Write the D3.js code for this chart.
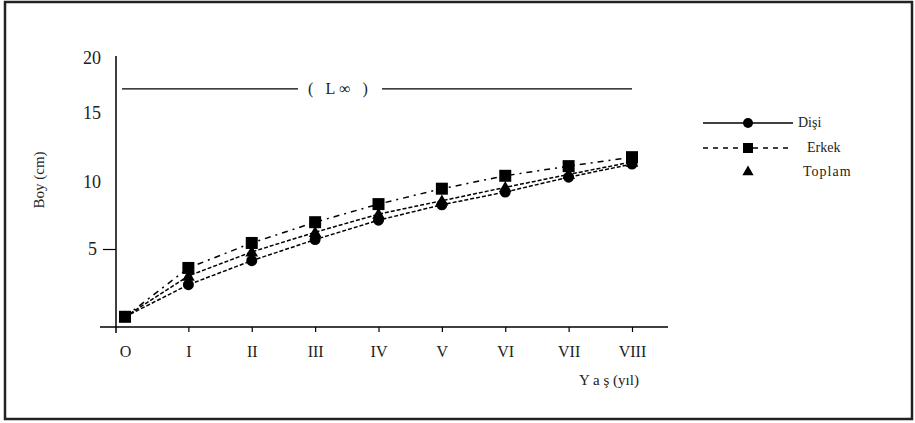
<!DOCTYPE html>
<html><head><meta charset="utf-8">
<script src="https://cdn.jsdelivr.net/npm/d3@7"></script>
<style>body{margin:0;background:#fff}svg{display:block}</style>
</head><body>
<script>
const ages = ["O","I","II","III","IV","V","VI","VII","VIII"];
const disi   = [0.35, 2.55, 4.2, 5.7, 7.15, 8.3, 9.25, 10.35, 11.3];
const erkek  = [0.35, 3.7, 5.45, 7.0, 8.35, 9.5, 10.45, 11.15, 11.8];
const toplam = [0.35, 3.15, 4.8, 6.25, 7.6, 8.6, 9.6, 10.55, 11.45];
const yTicks = [5, 10, 15, 20];
const lInf = 17.2;
const seriesNames = ["Dişi", "Erkek", "Toplam"];

const W = 915, H = 423;
const svg = d3.select("body").append("svg").attr("width", W).attr("height", H);
const font = "'Liberation Serif', serif";
const txt = "#222";

svg.append("rect").attr("x",5).attr("y",2).attr("width",907).attr("height",417)
  .attr("fill","none").attr("stroke","#222").attr("stroke-width",2.5);

const x = d3.scalePoint().domain(ages).range([125, 632]);
const y = d3.scaleLinear().domain([-0.35, 5, 10, 15, 20]).range([327, 249, 182, 113, 58]);

// axes lines
svg.append("line").attr("x1",116).attr("x2",116).attr("y1",56).attr("y2",333)
  .attr("stroke","#000").attr("stroke-width",1.5);
svg.append("line").attr("x1",100).attr("x2",668).attr("y1",y(-0.35)).attr("y2",y(-0.35))
  .attr("stroke","#000").attr("stroke-width",1.5);

// y axis
const yAxis = svg.append("g").attr("transform","translate(116,0)")
  .call(d3.axisLeft(y).tickValues(yTicks).tickSize(13).tickPadding(4));
yAxis.select(".domain").remove();
yAxis.selectAll(".tick line").attr("stroke", d => d === 5 ? "#000" : "none").attr("stroke-width",1.2);
yAxis.selectAll("text").attr("font-family",font).attr("font-size",18).attr("fill",txt)
  .attr("x", d => d === 5 ? -19 : -15);

// x axis
const xAxis = svg.append("g").attr("transform",`translate(0,${y(-0.35)})`)
  .call(d3.axisBottom(x).tickSize(5).tickPadding(14));
xAxis.select(".domain").remove();
xAxis.selectAll(".tick line").attr("stroke", (d,i) => i === 0 ? "none" : "#000").attr("stroke-width",1.2);
xAxis.selectAll("text").attr("font-family",font).attr("font-size",16).attr("fill",txt);

// axis titles
svg.append("text").attr("transform","translate(44,180) rotate(-90)")
  .attr("text-anchor","middle").attr("font-family",font).attr("font-size",15).attr("fill",txt)
  .text("Boy (cm)");
svg.append("text").attr("x",609).attr("y",385).attr("text-anchor","middle")
  .attr("font-family",font).attr("font-size",15).attr("fill",txt).text("Y a ş (yıl)");

// L infinity line
svg.append("line").attr("x1",122).attr("x2",298).attr("y1",y(lInf)).attr("y2",y(lInf))
  .attr("stroke","#000").attr("stroke-width",1.2);
svg.append("line").attr("x1",382).attr("x2",632).attr("y1",y(lInf)).attr("y2",y(lInf))
  .attr("stroke","#000").attr("stroke-width",1.2);
svg.append("text").attr("x",340).attr("y",y(lInf)+5).attr("text-anchor","middle")
  .attr("font-family",font).attr("font-size",16).attr("fill",txt).attr("letter-spacing",4).text("( L∞ )");

// lines
const line = d3.line().x((d,i) => x(ages[i])).y(d => y(d));
const styles = [
  {data: disi, dash: "4,2"},
  {data: toplam, dash: "4,2"},
  {data: erkek, dash: "6,5,2,5"}
];
styles.forEach(s => {
  svg.append("path").attr("d", line(s.data)).attr("fill","none")
    .attr("stroke","#000").attr("stroke-width",1.5).attr("stroke-dasharray", s.dash);
});

// markers
const tri = d3.symbol().type(d3.symbolTriangle).size(70);
svg.append("g").selectAll("path").data(toplam).join("path")
  .attr("d", tri).attr("transform",(d,i)=>`translate(${x(ages[i])},${y(d)+1})`).attr("fill","#000");
svg.append("g").selectAll("circle").data(disi).join("circle")
  .attr("cx",(d,i)=>x(ages[i])).attr("cy",d=>y(d)).attr("r",5.5).attr("fill","#000");
svg.append("g").selectAll("rect").data(erkek).join("rect")
  .attr("x",(d,i)=>x(ages[i])-6).attr("y",d=>y(d)-6).attr("width",12).attr("height",12).attr("fill","#000");

// legend
const lg = svg.append("g");
lg.append("line").attr("x1",703).attr("x2",793).attr("y1",123).attr("y2",123).attr("stroke","#000").attr("stroke-width",1.3);
lg.append("circle").attr("cx",748).attr("cy",123).attr("r",5).attr("fill","#000");
lg.append("text").attr("x",798).attr("y",127).attr("font-family",font).attr("font-size",14).attr("fill",txt).text(seriesNames[0]);
lg.append("line").attr("x1",703).attr("x2",793).attr("y1",148).attr("y2",148).attr("stroke","#000")
  .attr("stroke-width",1.3).attr("stroke-dasharray","5,5");
lg.append("rect").attr("x",743).attr("y",143).attr("width",10).attr("height",10).attr("fill","#000");
lg.append("text").attr("x",807).attr("y",152).attr("font-family",font).attr("font-size",14).attr("fill",txt).text(seriesNames[1]);
lg.append("path").attr("d", d3.symbol().type(d3.symbolTriangle).size(55)).attr("transform","translate(748,172)").attr("fill","#000");
lg.append("text").attr("x",803).attr("y",176).attr("font-family",font).attr("font-size",14).attr("fill",txt).attr("letter-spacing",1).text(seriesNames[2]);
</script>
</body></html>
